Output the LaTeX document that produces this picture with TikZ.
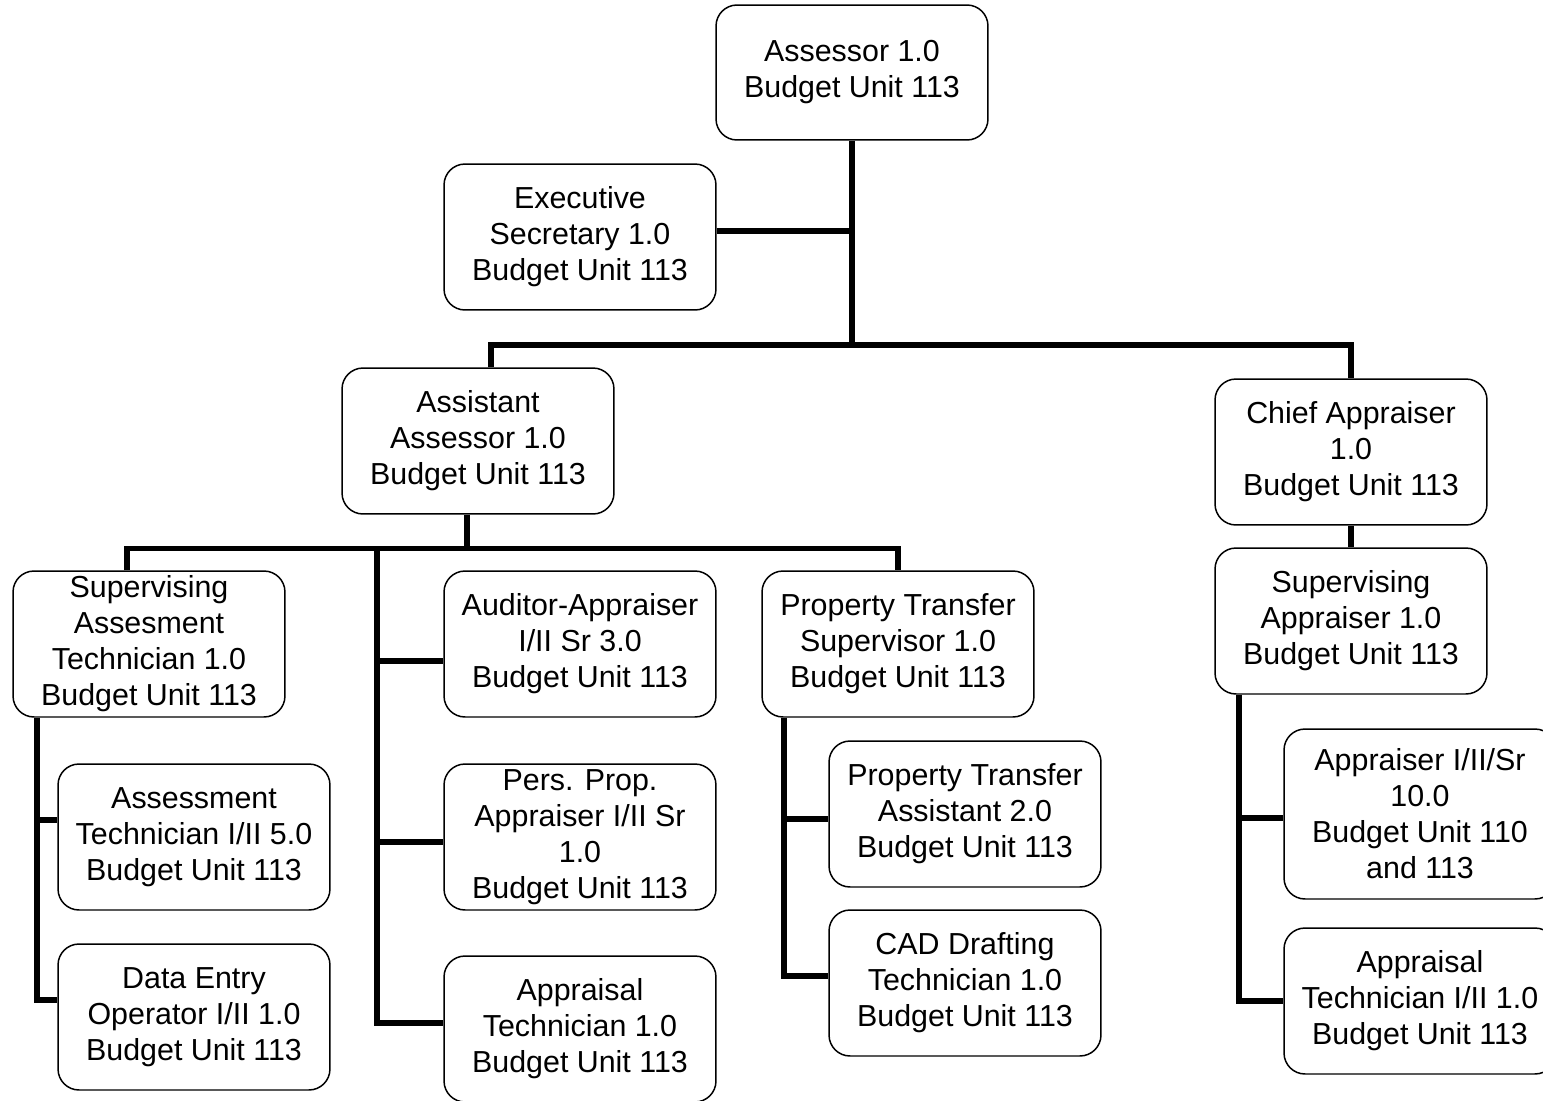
\documentclass[tikz,border=0pt]{standalone}
\usepackage{fontspec}
\setmainfont{Liberation Sans}
\usepackage{tikz}

\begin{document}
\begin{tikzpicture}[x=0.02cm,y=-0.02cm,
    box/.style={draw,rounded corners=0.42cm,line width=0.85pt,align=center,inner sep=0pt,
        minimum width=5.44cm,minimum height=2.92cm,font=\fontsize{17.3}{20.5}\selectfont},
    link/.style={line width=3.1pt}]
                \useasboundingbox (0,0) rectangle (1543,1100);
                % top
                \node[box,minimum height=2.7cm] (assessor) at (852,72.5) {Assessor 1.0\\Budget Unit 113};
                \node[box] (exec) at (580,237) {Executive\\Secretary 1.0\\Budget Unit 113};
                \node[box] (asst) at (478,441) {Assistant\\Assessor 1.0\\Budget Unit 113};
                \node[box] (chief) at (1351,452) {Chief Appraiser\\1.0\\Budget Unit 113};
                % assistant assessor branch
                \node[box] (supat) at (149,644) {Supervising\\Assesment\\Technician 1.0\\Budget Unit 113};
                \node[box] (auditor) at (580,644) {Auditor-Appraiser\\I/II Sr 3.0\\Budget Unit 113};
                \node[box] (ptsup) at (898,644) {Property Transfer\\Supervisor 1.0\\Budget Unit 113};
                \node[box] (asstech) at (194,837) {Assessment\\Technician I/II 5.0\\Budget Unit 113};
                \node[box] (dataentry) at (194,1017) {Data Entry\\Operator I/II 1.0\\Budget Unit 113};
                \node[box] (persprop) at (580,837) {Pers. Prop.\\Appraiser I/II Sr\\1.0\\Budget Unit 113};
                \node[box] (apptech) at (580,1029) {Appraisal\\Technician 1.0\\Budget Unit 113};
                \node[box] (ptassist) at (965,814) {Property Transfer\\Assistant 2.0\\Budget Unit 113};
                \node[box] (cad) at (965,983) {CAD Drafting\\Technician 1.0\\Budget Unit 113};
                % chief appraiser branch
                \node[box] (supapp) at (1351,621) {Supervising\\Appraiser 1.0\\Budget Unit 113};
                \node[box,minimum height=3.4cm] (appraiser) at (1420,814) {Appraiser I/II/Sr\\10.0\\Budget Unit 110\\and 113};
                \node[box] (apptech2) at (1420,1001) {Appraisal\\Technician I/II 1.0\\Budget Unit 113};

                % upper links
                \coordinate (hub) at (852,345);
                \draw [link] (assessor.south) -- (hub);
                \draw [link] ([yshift=.12cm]exec.east) -- ([yshift=.12cm]exec.east -| hub);
                \draw [link] ([xshift=.26cm]asst.north) |- (hub) -| (chief.north);
                \draw [link] (chief.south) -- (supapp.north);

                % assistant assessor links
                \coordinate (abus) at ([yshift=-.68cm,xshift=-.22cm]asst.south);
                \draw [link] ([xshift=-.22cm]asst.south) -- (abus);
                \draw [link] ([xshift=-.44cm]supat.north) |- (abus) -| (ptsup.north);
                \coordinate (aspine) at (377,548);
                \coordinate (b1) at ([yshift=-.34cm]auditor.west);
                \coordinate (b2) at ([yshift=-.1cm]persprop.west);
                \coordinate (b3) at ([yshift=.12cm]apptech.west);
                \draw [link] (aspine) |- (b3);
                \draw [link] (aspine |- b1) -- (b1);
                \draw [link] (aspine |- b2) -- (b2);

                % supervising assessment technician links
                \coordinate (s1) at ([xshift=-2.24cm]supat.south);
                \coordinate (c1) at ([yshift=.34cm]asstech.west);
                \coordinate (c2) at ([yshift=.34cm]dataentry.west);
                \draw [link] (s1) |- (c2);
                \draw [link] (s1 |- c1) -- (c1);

                % property transfer links
                \coordinate (s2) at ([xshift=-2.28cm]ptsup.south);
                \coordinate (d1) at ([yshift=-.1cm]ptassist.west);
                \coordinate (d2) at ([yshift=.14cm]cad.west);
                \draw [link] (s2) |- (d2);
                \draw [link] (s2 |- d1) -- (d1);

                % supervising appraiser links
                \coordinate (s3) at ([xshift=-2.24cm]supapp.south);
                \coordinate (e1) at ([yshift=-.08cm]appraiser.west);
                \draw [link] (s3) |- (apptech2.west);
                \draw [link] (s3 |- e1) -- (e1);
            \end{tikzpicture}
\end{document}
